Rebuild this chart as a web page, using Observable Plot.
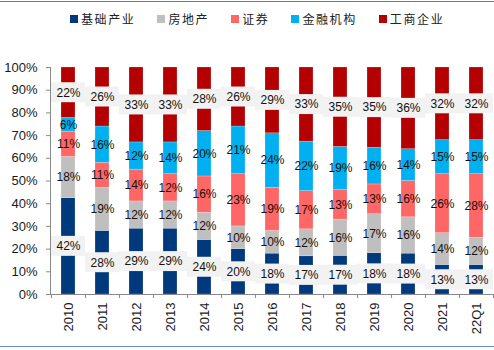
<!DOCTYPE html>
<html>
<head>
<meta charset="utf-8">
<script src="https://cdn.jsdelivr.net/npm/d3@7"></script>
<script src="https://cdn.jsdelivr.net/npm/@observablehq/plot@0.6"></script>
<style>
  html, body { margin: 0; padding: 0; background: #fff; }
  body { position: relative; width: 494px; height: 350px; overflow: hidden; font-family: "Liberation Sans", Arial, sans-serif; }
  #topline { position: absolute; left: 0; top: 1px; width: 494px; height: 1px; background: #5b7fb0; }
  #botline { position: absolute; left: 0; top: 346px; width: 494px; height: 1px; background: #6a8cbd; }
  #legend { position: absolute; top: 10px; left: 70px; display: flex; align-items: center; font-family: "Noto Sans CJK SC", sans-serif; font-size: 12px; letter-spacing: 1.6px; color: #222; }
  .item { display: flex; align-items: center; margin-right: 22px; }
  .sw { width: 8px; height: 8px; margin-right: 3px; }
  #chart { position: absolute; top: 40px; left: 0; }
</style>
</head>
<body>
<div id="topline"></div>
<div id="legend"></div>
<div id="chart"></div>
<div id="botline"></div>
<script>
const categories = ["2010","2011","2012","2013","2014","2015","2016","2017","2018","2019","2020","2021","22Q1"];
const seriesNames = ["基础产业","房地产","证券","金融机构","工商企业"];
const basic      = [42,28,29,29,24,20,18,17,17,18,18,13,13];
const realEstate = [18,19,12,12,12,10,10,12,16,17,16,14,12];
const securities = [11,11,14,12,16,23,19,17,13,13,16,26,28];
const financial  = [ 6,16,12,14,20,21,24,22,19,16,14,15,15];
const industrial = [22,26,33,33,28,26,29,33,35,35,36,32,32];
const colors = ["#003a7d","#bfbfbf","#ff6666","#00b0f0","#b40000"];
const yTicks = [0,10,20,30,40,50,60,70,80,90,100];

const seriesValues = [basic, realEstate, securities, financial, industrial];

// Build stacked (normalized to 100%) table
const rows = [];
categories.forEach((cat, i) => {
  const total = d3.sum(seriesValues, s => s[i]);
  let acc = 0;
  seriesValues.forEach((s, j) => {
    const v = s[i] / total * 100;
    rows.push({cat, series: seriesNames[j], value: s[i], y1: acc, y2: acc + v, mid: acc + v / 2, idx: j});
    acc += v;
  });
});
const boxed = rows.filter(d => d.idx === 0 || d.idx === 4);

// Legend
const legend = document.getElementById("legend");
seriesNames.forEach((n, i) => {
  const it = document.createElement("div");
  it.className = "item";
  it.innerHTML = `<div class="sw" style="background:${colors[i]}"></div><span>${n}</span>`;
  legend.appendChild(it);
});

const W = 494, ML = 50, MR = 0, MT = 27, MB = 52, H = 306;
const step = (W - ML - MR) / categories.length;
const plotH = H - MT - MB;
const tickLen = 4 / plotH * 100;

const chart = Plot.plot({
  width: W,
  height: H,
  marginLeft: ML,
  marginRight: MR,
  marginTop: MT,
  marginBottom: MB,
  style: {fontFamily: "'Liberation Sans', Arial, sans-serif", color: "#1a1a1a", background: "transparent"},
  x: {domain: categories, padding: 0},
  y: {domain: [0, 100]},
  color: {domain: seriesNames, range: colors},
  marks: [
    Plot.barY(rows, {x: "cat", y1: "y1", y2: "y2", fill: "series", insetLeft: 10, insetRight: 10, stroke: "#ffffff", strokeOpacity: 0.35, strokeWidth: 0.6}),
    Plot.barY(boxed, {x: "cat", y1: d => d.mid - 4.4, y2: d => d.mid + 4.4, fill: "#f2f2f2", inset: 0}),
    Plot.text(rows, {x: "cat", y: "mid", text: d => d.value + "%", fontSize: 12, fill: "#111"}),
    Plot.axisY({ticks: yTicks, tickFormat: d => d + "%", tickSize: 4, tickPadding: 9, fontSize: 13, stroke: "#888", fill: "#1a1a1a"}),
    Plot.axisX({tickRotate: -90, tickSize: 0, tickPadding: 8, fontSize: 13, fill: "#1a1a1a", label: null}),
    Plot.ruleY([0], {stroke: "#888"}),
    Plot.frame({anchor: "left", stroke: "#888"}),
    Plot.ruleX(categories, {x: d => d, y1: 0, y2: -tickLen, dx: step / 2, stroke: "#888"}),
    Plot.ruleX([categories[0]], {x: d => d, y1: 0, y2: -tickLen, dx: -step / 2, stroke: "#888"})
  ]
});
document.getElementById("chart").appendChild(chart);
</script>
</body>
</html>
